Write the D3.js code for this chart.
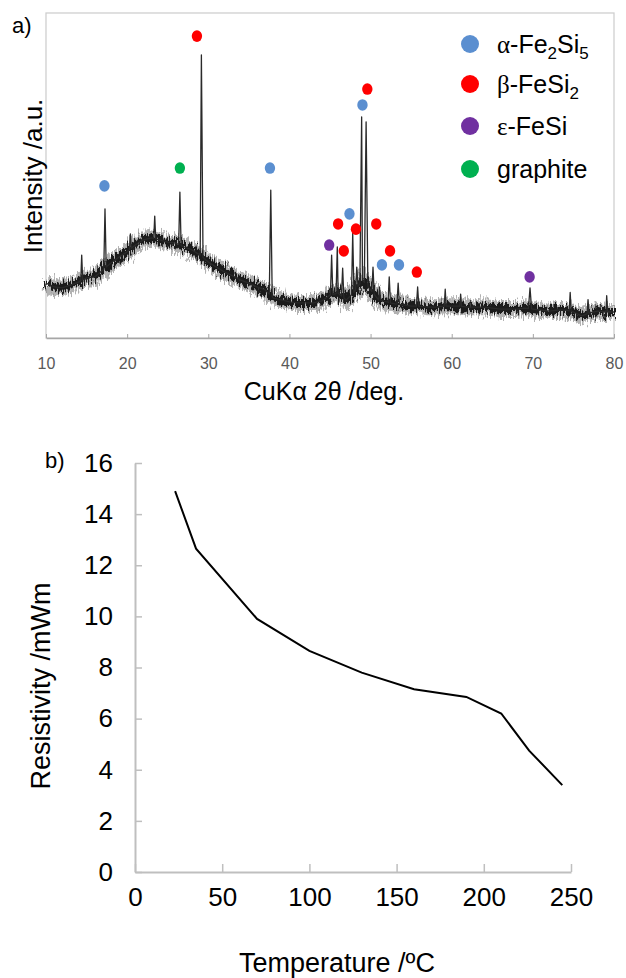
<!DOCTYPE html>
<html>
<head>
<meta charset="utf-8">
<script src="https://cdn.jsdelivr.net/npm/d3@7"></script>
<style>
  body { margin: 0; background: #fff; }
  text { font-family: "Liberation Sans", Arial, sans-serif; }
</style>
</head>
<body>
<svg id="fig" width="626" height="978"></svg>
<script>
// a) XRD pattern — background read every degree, peaks
const xrdAngle = [10, 11, 12, 13, 14, 15, 16, 17, 18, 19, 20, 21, 22, 23, 24, 25, 26, 27, 28, 29,
  30, 31, 32, 33, 34, 35, 36, 37, 38, 39, 40, 41, 42, 43, 44, 45, 46, 47, 48, 49,
  50, 51, 52, 53, 54, 55, 56, 57, 58, 59, 60, 61, 62, 63, 64, 65, 66, 67, 68, 69,
  70, 71, 72, 73, 74, 75, 76, 77, 78, 79, 80];
const xrdBackground = [169, 157, 154, 163, 172, 185, 188, 209, 231, 249, 265, 286, 302, 308, 302, 295, 292, 280, 271, 255,
  234, 218, 203, 191, 178, 169, 157, 148, 123, 117, 111, 108, 108, 108, 114, 132, 138, 117, 142, 178,
  148, 117, 111, 105, 102, 98, 98, 95, 95, 98, 98, 98, 95, 95, 95, 92, 89, 89, 89, 92,
  89, 86, 83, 86, 86, 80, 68, 77, 83, 80, 80];
const peakAngle = [14.4, 17.27, 20.4, 23.4, 26.5, 29.15, 37.7, 45.2, 45.9, 46.56, 47.8, 48.3, 48.9, 49.45,
  50.3, 51.1, 52.3, 53.4, 55.8, 59.2, 61.1, 69.65, 74.6, 76.8, 79.1];
const peakHeight = [255, 397, 320, 375, 449, 871, 455, 255, 280, 215, 323, 218, 680, 665,
  218, 157, 188, 169, 157, 150, 135, 154, 140, 118, 130];
const peakWidth = [0.12, 0.15, 0.12, 0.12, 0.15, 0.2, 0.18, 0.15, 0.15, 0.15, 0.15, 0.15, 0.22, 0.22,
  0.15, 0.15, 0.15, 0.15, 0.15, 0.12, 0.12, 0.2, 0.12, 0.12, 0.12];

// phase markers above peaks
const phases = ["α-Fe|2|Si|5", "β-FeSi|2", "ε-FeSi", "graphite"];
const phaseColors = ["#5b8fd0", "#ff0000", "#7030a0", "#00b050"];
const markerAngle = [17.2, 28.6, 26.5, 37.6, 49.0, 49.6, 44.9, 46.0, 47.4, 48.2, 50.7, 46.7, 52.4, 51.4, 53.5, 55.7, 69.6];
const markerHeight = [468, 929, 523, 523, 717, 766, 286, 351, 382, 335, 351, 268, 268, 225, 225, 203, 188];
const markerPhase = [0, 1, 3, 0, 0, 1, 2, 1, 0, 1, 1, 1, 1, 0, 0, 1, 2];

const xrdTicks = [10, 20, 30, 40, 50, 60, 70, 80];

// b) resistivity vs temperature
const tempC = [23, 35, 70, 100, 130, 160, 190, 210, 226, 245];
const resistivity = [14.9, 12.65, 9.9, 8.65, 7.8, 7.15, 6.85, 6.2, 4.75, 3.4];
const tempTicks = [0, 50, 100, 150, 200, 250];
const resTicks = [0, 2, 4, 6, 8, 10, 12, 14, 16];

const svg = d3.select("#fig");

// grainy texture for the amorphous background band
const defs = svg.append("defs");
const filt = defs.append("filter").attr("id", "grain")
  .attr("x", "-2%").attr("y", "-40%").attr("width", "104%").attr("height", "180%");
filt.append("feTurbulence").attr("type", "fractalNoise")
  .attr("baseFrequency", "0.7 0.12").attr("numOctaves", 2).attr("seed", 4).attr("result", "t");
filt.append("feDisplacementMap").attr("in", "SourceGraphic").attr("in2", "t")
  .attr("scale", 16).attr("xChannelSelector", "R").attr("yChannelSelector", "G");

// ---------- panel a ----------
const xA = d3.scaleLinear().domain([10, 80]).range([46, 614]);
const yA = d3.scaleLinear().domain([0, 1000]).range([338, 13]);

svg.append("rect")
  .attr("x", 46).attr("y", 13).attr("width", 568).attr("height", 325)
  .attr("fill", "none").attr("stroke", "#cfcfcf").attr("stroke-width", 1.3);

const bgAt = d3.scaleLinear().domain(xrdAngle).range(xrdBackground);
const bgPts = xrdAngle.map((a, i) => [a, xrdBackground[i]]);
let trace = bgPts.slice();
peakAngle.forEach((a, i) => {
  const w = peakWidth[i];
  trace.push([a - w, bgAt(a - w)], [a, peakHeight[i]], [a + w, bgAt(a + w)]);
});
trace = trace.filter(p => p[0] >= 10 && p[0] <= 80).sort((p, q) => p[0] - q[0]);

const lineA = d3.line().x(d => xA(d[0])).y(d => yA(d[1]));

const band = svg.append("g").attr("filter", "url(#grain)");
band.append("path").datum(bgPts).attr("d", lineA)
  .attr("fill", "none").attr("stroke", "#000").attr("stroke-opacity", 0.3).attr("stroke-width", 16);
band.append("path").datum(bgPts).attr("d", lineA)
  .attr("fill", "none").attr("stroke", "#000").attr("stroke-opacity", 0.85).attr("stroke-width", 8);

svg.append("path").datum(trace).attr("d", lineA)
  .attr("fill", "none").attr("stroke", "#2a2a2a").attr("stroke-width", 1.3).attr("stroke-linejoin", "round");

const axA = svg.append("g").attr("transform", "translate(0,338)")
  .call(d3.axisBottom(xA).tickValues(xrdTicks).tickSizeInner(-4).tickSizeOuter(0).tickPadding(20));
axA.select(".domain").attr("stroke", "#a6a6a6").attr("stroke-width", 1.3);
axA.selectAll(".tick line").attr("stroke", "#a6a6a6");
axA.selectAll(".tick text").attr("fill", "#595959").attr("font-size", 16)
  .attr("font-family", "'Liberation Sans', Arial, sans-serif");

svg.append("g").selectAll("ellipse")
  .data(markerAngle)
  .join("ellipse")
  .attr("cx", d => xA(d))
  .attr("cy", (d, i) => yA(markerHeight[i]))
  .attr("rx", 5.2).attr("ry", 5.8)
  .attr("fill", (d, i) => phaseColors[markerPhase[i]]);

// legend
const leg = svg.append("g");
phases.forEach((p, i) => {
  const cy = [44, 84, 126, 169][i];
  leg.append("circle").attr("cx", 470).attr("cy", cy).attr("r", 9).attr("fill", phaseColors[i]);
  const t = leg.append("text").attr("x", 497).attr("y", cy + 9).attr("font-size", 25).attr("fill", "#000");
  p.split("|").forEach((part, k) => {
    if (k % 2 === 0) {
      if (k === 0 && i < 3) {
        t.append("tspan").attr("font-family", "'Liberation Serif', serif").text(part[0]);
        t.append("tspan").text(part.slice(1));
      } else t.append("tspan").attr("dy", k ? -6 : 0).text(part);
    } else {
      t.append("tspan").attr("dy", 6).attr("font-size", 17).text(part);
    }
  });
});

svg.append("text").attr("x", 12).attr("y", 33).attr("font-size", 22).text("a)");
svg.append("text").attr("x", 324).attr("y", 400).attr("text-anchor", "middle")
  .attr("font-size", 25).text("CuKα 2θ /deg.");
svg.append("text").attr("transform", "translate(42,176) rotate(-90)").attr("text-anchor", "middle")
  .attr("font-size", 26).text("Intensity /a.u.");

// ---------- panel b ----------
const xB = d3.scaleLinear().domain([0, 250]).range([135, 571]);
const yB = d3.scaleLinear().domain([0, 16]).range([872, 463]);

const axBx = svg.append("g").attr("transform", "translate(0,872)")
  .call(d3.axisBottom(xB).tickValues(tempTicks).tickSizeInner(-8).tickSizeOuter(0).tickPadding(16));
const axBy = svg.append("g").attr("transform", "translate(135,0)")
  .call(d3.axisLeft(yB).tickValues(resTicks).tickSizeInner(-7).tickSizeOuter(0).tickPadding(22));
[axBx, axBy].forEach(ax => {
  ax.select(".domain").attr("stroke", "#bfbfbf").attr("stroke-width", 2);
  ax.selectAll(".tick line").attr("stroke", "#bfbfbf").attr("stroke-width", 1.5);
  ax.selectAll(".tick text").attr("fill", "#000").attr("font-size", 26)
    .attr("font-family", "'Liberation Sans', Arial, sans-serif");
});

svg.append("path")
  .datum(tempC.map((t, i) => [t, resistivity[i]]))
  .attr("d", d3.line().x(d => xB(d[0])).y(d => yB(d[1])))
  .attr("fill", "none").attr("stroke", "#000").attr("stroke-width", 2);

svg.append("text").attr("x", 45).attr("y", 468).attr("font-size", 22).text("b)");
svg.append("text").attr("x", 337).attr("y", 972).attr("text-anchor", "middle")
  .attr("font-size", 27).text("Temperature /ºC");
svg.append("text").attr("transform", "translate(50,686) rotate(-90)").attr("text-anchor", "middle")
  .attr("font-size", 27).text("Resistivity /mWm");
</script>
</body>
</html>
